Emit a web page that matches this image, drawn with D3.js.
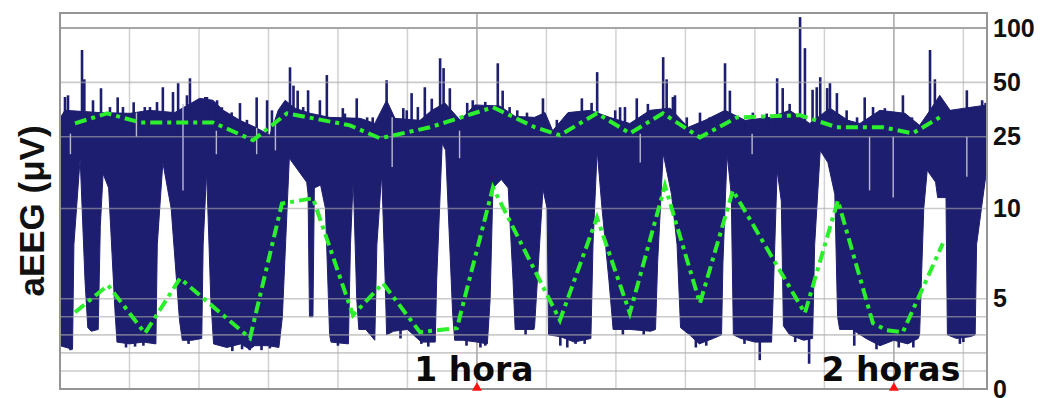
<!DOCTYPE html>
<html>
<head>
<meta charset="utf-8">
<script src="https://cdn.jsdelivr.net/npm/d3@7"></script>
<style>
  body { margin: 0; background: #fff; }
  svg { display: block; }
</style>
</head>
<body>
<div id="chart"></div>
<script>
// time in minutes, amplitude in microvolts (semi-log: linear 0-10, log 10-100)
var upperT = [0, 0.7, 5.8, 10.1, 12.9, 16.5, 20.1, 22.0, 23.5, 25.9, 28.1, 30.2, 31.4, 32.4, 33.8, 36.0, 38.8, 43.2, 45.3, 47.0, 48.2, 51.8, 53.5, 55.4, 57.6, 59.7, 63.3, 65.5, 68.3, 69.8, 70.9, 73.1, 76.3, 79.1, 82.0, 84.9, 87.8, 90.4, 92.8, 95.7, 98.6, 102.2, 105.0, 107.9, 110.8, 113.4, 115.1, 118.0, 121.6, 123.7, 125.2, 126.6, 128.1, 130.2, 133.4];
var upperV = [31.6, 35, 34, 33.7, 35, 34, 40.8, 39.8, 35, 30.8, 28.2, 25.5, 35, 39.8, 36, 33.7, 32, 31.6, 29.6, 39.8, 31.6, 30.8, 35, 38.4, 30.8, 37.5, 37, 32.4, 32, 34, 27, 34, 35, 32, 29.6, 35, 36, 28.2, 30.8, 35, 30.8, 32, 35, 29.6, 36, 30.8, 29.6, 35, 33.7, 28.9, 35, 42.4, 35, 36, 37.5];

var lowerT = [0, 1.8, 2.0, 2.9, 3.6, 4.0, 4.5, 5.5, 5.8, 6.2, 7.0, 7.9, 8.2, 10, 12, 13.8, 14.0, 14.8, 16, 17.2, 17.6, 19, 20.4, 20.6, 21.1, 21.7, 22.1, 24, 26, 27.3, 28, 30, 31.5, 32, 33.0, 35.5, 35.7, 35.9, 36.4, 36.6, 37.5, 38.2, 38.8, 39, 41.5, 41.8, 42.2, 42.7, 43, 44, 45.3, 45.6, 46.3, 46.8, 47.0, 48, 50, 52, 54, 54.2, 55.0, 55.5, 56.5, 56.8, 58, 60, 61.5, 61.9, 62.3, 63.5, 64.5, 65.2, 65.5, 66.5, 68.2, 68.3, 69.5, 70.1, 70.3, 72, 74, 76.4, 76.7, 77.3, 78.0, 79.0, 79.6, 82, 85, 85.7, 86.0, 86.8, 88.0, 88.8, 89.3, 90.6, 92, 94, 95.2, 95.4, 96.0, 96.6, 96.9, 98, 100, 102.4, 102.7, 103.2, 103.8, 104.1, 105, 107, 108.3, 108.6, 109.4, 110.5, 111.5, 111.9, 112.2, 114, 116, 118, 120, 122, 123.5, 123.7, 124.3, 124.8, 126.0, 126.3, 127.5, 127.7, 129, 131, 131.7, 131.9, 133.4];
var lowerV = [2.4, 2.2, 8, 19, 6, 3.4, 3.2, 3.3, 9, 15.6, 13, 4.4, 2.6, 2.5, 2.6, 2.5, 8, 18, 10, 3.8, 2.7, 2.7, 2.8, 8, 16, 5, 2.5, 2.3, 2.5, 2.2, 2.4, 2.4, 2.3, 4, 19, 14, 12, 4, 4, 13, 13.5, 10, 3, 2.6, 2.5, 8, 14.7, 5, 3.3, 3.3, 2.7, 8, 15.6, 6, 3, 3.2, 3.3, 2.6, 2.6, 6, 23, 21, 4.2, 2.7, 2.7, 2.6, 2.5, 5, 13, 14.5, 13, 6, 3.3, 3.3, 3.3, 3.5, 12.8, 10, 3, 2.9, 2.6, 2.8, 8, 21, 10, 6, 3.3, 3.3, 3.2, 3.3, 7, 20.2, 12, 8, 3.4, 3.0, 2.5, 2.8, 3, 7, 20, 12, 3, 2.8, 2.6, 2.6, 6, 16.3, 11, 3.5, 3.0, 2.7, 2.8, 8, 21, 18, 12, 4, 3.3, 3.3, 2.8, 2.4, 2.7, 2.5, 2.8, 3, 10, 16.3, 14, 11.5, 11.5, 3.0, 2.8, 2.9, 3, 8, 17];

// narrow peaks above the upper margin
var spikeT = [1.15, 3.17, 3.5, 5.9, 8.3, 10.6, 12.2, 14.8, 17.0, 18.7, 20.9, 23.3, 24.7, 25.9, 28.3, 29.8, 33.1, 33.6, 35.7, 37.4, 38.4, 40.7, 42.7, 47.0, 49.4, 50.6, 52.5, 54.7, 55.2, 56.1, 59.4, 61.2, 63.0, 63.7, 67.2, 69.5, 75.1, 77.3, 80.6, 83.0, 84.6, 86.8, 87.3, 88.5, 92.1, 95.7, 96.4, 99.7, 103.2, 105.0, 106.5, 107.2, 108.9, 109.4, 110.8, 111.8, 115.8, 118.7, 121.3, 125.2, 125.9, 130.5, 132.7,
  0.72, 4.75, 7.19, 9.06, 11.08, 12.95, 13.96, 16.26, 18.27, 21.15, 22.6, 26.9, 30.5, 34.2, 35.0, 41.0, 44.2, 45.0, 48.2, 49.9, 51.5, 53.5, 57.1, 58.6, 64.7, 65.8, 71.5, 73.7, 76.5, 79.9, 81.3, 88.2, 90.2, 93.5, 98.3, 101.7, 104.0, 108.3, 110.4, 113.2, 114.7, 117.0, 118.0, 119.9, 122.6, 128.1, 129.0, 131.3, 133.2];
var spikeV = [42.4, 75.6, 52, 46.4, 41.3, 38.8, 36.5, 47, 49.5, 52.7, 41.5, 36.4, 34.1, 38.4, 41.3, 39.8, 60.6, 48, 45.2, 39.8, 54.9, 36, 40.8, 51.4, 36, 43.6, 47, 68, 60, 46.4, 39.8, 39, 63.8, 45, 34, 40.8, 40.8, 57, 36.4, 40.8, 38, 69, 52, 42.4, 34, 63.8, 45, 34, 52.7, 38, 115, 77.4, 47, 53.4, 49.5, 43.6, 41.3, 36, 42.4, 75.6, 52, 45.2, 39.8,
  41.5, 39.8, 36.5, 36.5, 33.6, 36.5, 38.9, 44.2, 42.4, 41.5, 39.8, 31, 35, 45, 36.5, 33.6, 32, 32, 30, 35, 36.5, 40.6, 32, 38.5, 36.5, 35, 31, 33, 38.5, 35, 36.5, 41.5, 32, 32, 31, 33.6, 46.5, 45.5, 46.5, 35, 32, 36.5, 35, 34, 32, 35, 32, 36.5, 38.5];

// narrow drops below the lower margin
var dipT = [1.5, 9.5, 10.8, 12.0, 18.5, 24.8, 26.2, 27.3, 29.0, 30.2, 40.0, 49.0, 52.0, 53.0, 58.5, 60.5, 61.2, 67.0, 72.0, 73.0, 74.2, 75.5, 81.0, 84.0, 91.5, 93.0, 98.5, 100.7, 105.8, 107.8, 114.3, 115.0, 117.5, 120.7, 122.8, 129.5, 130.0];
var dipV = [2.15, 2.3, 2.35, 2.4, 2.5, 2.1, 2.2, 2.15, 2.15, 2.25, 2.4, 2.8, 2.5, 2.35, 2.4, 2.3, 2.4, 3.0, 2.4, 2.3, 2.5, 2.5, 3.0, 3.0, 2.3, 2.4, 2.5, 1.6, 2.6, 1.4, 2.4, 3.0, 2.2, 2.3, 2.3, 2.5, 2.6];

// pale dropout streaks inside the trace
var streakT = [1.5, 11.0, 17.7, 22.5, 28.3, 31.0, 47.8, 57.5, 83.5, 99.6, 116.5, 119.9, 130.5];
var streakTop = [26, 34, 38, 27, 28, 30, 32, 27, 26, 26, 25, 25, 25];
var streakBot = [20, 25, 12.6, 20, 20, 21, 17, 19, 18, 20, 12.6, 11.5, 15];

// trend lines (green, dash-dot)
var trendHighT = [2.16, 6.76, 11.51, 22.01, 27.77, 32.66, 41.73, 46.04, 53.24, 62.3, 68.35, 71.94, 77.27, 82.01, 86.76, 92.09, 97.41, 106.47, 111.8, 118.4, 122.7, 126.6];
var trendHighV = [29.65, 33.7, 30.0, 30.0, 23.9, 33.7, 28.9, 24.5, 28.2, 36.4, 28.2, 25.5, 33.7, 26.1, 33.7, 24.8, 32.0, 32.9, 28.2, 28.2, 26.1, 32.0];
var trendLowT = [2.16, 6.91, 12.23, 17.27, 27.34, 31.94, 36.4, 42.16, 46.47, 51.8, 57.12, 62.3, 71.94, 77.27, 82.0, 87.05, 92.09, 96.83, 107.19, 111.94, 116.98, 118.99, 121.29, 127.05];
var trendLowV = [4.25, 5.75, 3.09, 6.13, 2.82, 10.66, 11.4, 4.09, 5.86, 3.15, 3.37, 13.08, 3.81, 9.5, 4.2, 13.4, 4.75, 12.6, 4.2, 11.08, 3.65, 3.26, 3.15, 8.07];

var yTicks = [0, 5, 10, 25, 50, 100];
var yGrid = [1, 2, 3, 4, 5, 10, 25, 50];
var xGrid = [10, 20, 30, 40, 50, 70, 80, 90, 100, 110, 130];
var hourT = [60, 120];
var hourLabels = ["1 hora", "2 horas"];

var W = 1044, H = 398;
var plot = {left: 60, right: 987, top: 13, bottom: 389};
var tMax = 133.4, vMax = 121.2;

function semilog(v) { return v <= 10 ? v / 10 : 1 + Math.log10(v / 10); }

var x = d3.scaleLinear().domain([0, tMax]).range([plot.left, plot.right]);
var yLin = d3.scaleLinear().domain([0, semilog(vMax)]).range([plot.bottom, plot.top]);
function y(v) { return yLin(semilog(v)); }

var svg = d3.select("#chart")
  .append("svg")
  .attr("width", W)
  .attr("height", H);

svg.append("rect").attr("width", W).attr("height", H).attr("fill", "#fff");

// vertical grid (under the trace)
svg.append("g")
  .selectAll("line")
  .data(xGrid)
  .enter().append("line")
  .attr("x1", function(d) { return x(d); })
  .attr("x2", function(d) { return x(d); })
  .attr("y1", y(100))
  .attr("y2", plot.bottom)
  .attr("stroke", "#d2d2d2")
  .attr("stroke-width", 1.5);

svg.append("g")
  .selectAll("line")
  .data(hourT)
  .enter().append("line")
  .attr("x1", function(d) { return x(d); })
  .attr("x2", function(d) { return x(d); })
  .attr("y1", plot.top)
  .attr("y2", plot.bottom)
  .attr("stroke", "#b4b4b4")
  .attr("stroke-width", 1.8);

// aEEG band: upper margin left to right, lower margin back
var navy = "#1e1e70";
var band = upperT.map(function(t, i) { return [t, upperV[i]]; })
  .concat(lowerT.map(function(t, i) { return [t, lowerV[i]]; }).reverse());

var line = d3.line()
  .x(function(d) { return x(d[0]); })
  .y(function(d) { return y(d[1]); });

svg.append("path")
  .attr("d", line(band) + "Z")
  .attr("fill", navy)
  .attr("stroke", navy)
  .attr("stroke-width", 1);

svg.append("g")
  .selectAll("rect")
  .data(spikeT)
  .enter().append("rect")
  .attr("x", function(d) { return x(d) - 1.3; })
  .attr("width", 2.6)
  .attr("y", function(d, i) { return y(spikeV[i]); })
  .attr("height", function(d, i) { return y(26) - y(spikeV[i]); })
  .attr("fill", navy);

svg.append("g")
  .selectAll("rect")
  .data(dipT)
  .enter().append("rect")
  .attr("x", function(d) { return x(d) - 1.3; })
  .attr("width", 2.6)
  .attr("y", y(3.3))
  .attr("height", function(d, i) { return y(dipV[i]) - y(3.3); })
  .attr("fill", navy);

svg.append("g")
  .selectAll("line")
  .data(streakT)
  .enter().append("line")
  .attr("x1", function(d) { return x(d); })
  .attr("x2", function(d) { return x(d); })
  .attr("y1", function(d, i) { return y(streakTop[i]); })
  .attr("y2", function(d, i) { return y(streakBot[i]); })
  .attr("stroke", "#b8b8d4")
  .attr("stroke-width", 1.4);

// horizontal grid drawn over the trace, semi transparent
svg.append("g")
  .selectAll("line")
  .data(yGrid)
  .enter().append("line")
  .attr("x1", plot.left)
  .attr("x2", plot.right)
  .attr("y1", function(d) { return y(d); })
  .attr("y2", function(d) { return y(d); })
  .attr("stroke", "#a8a8a8")
  .attr("stroke-opacity", 0.6)
  .attr("stroke-width", 1.6);

svg.append("line")
  .attr("x1", plot.left).attr("x2", plot.right)
  .attr("y1", y(100)).attr("y2", y(100))
  .attr("stroke", "#a6a6a6")
  .attr("stroke-width", 2);

// frame
svg.append("rect")
  .attr("x", plot.left)
  .attr("y", plot.top)
  .attr("width", plot.right - plot.left)
  .attr("height", plot.bottom - plot.top)
  .attr("fill", "none")
  .attr("stroke", "#959595")
  .attr("stroke-width", 2);

// trend lines
var green = "#2cf02c";
function trend(ts, vs) {
  svg.append("path")
    .attr("d", line(ts.map(function(t, i) { return [t, vs[i]]; })))
    .attr("fill", "none")
    .attr("stroke", green)
    .attr("stroke-width", 4)
    .attr("stroke-dasharray", "12,5,4,5");
}
trend(trendHighT, trendHighV);
trend(trendLowT, trendLowV);

// right axis
var yAxis = d3.axisRight(yLin)
  .tickValues(yTicks.map(semilog))
  .tickFormat(function(d, i) { return yTicks[i]; })
  .tickSize(0)
  .tickPadding(6);

var gy = svg.append("g")
  .attr("transform", "translate(" + plot.right + ",0)")
  .call(yAxis);
gy.select(".domain").remove();
gy.selectAll("text")
  .attr("fill", "#111")
  .style("font-family", "'Liberation Sans', Arial, sans-serif")
  .style("font-weight", "bold")
  .style("font-size", "25px");

// y label
svg.append("text")
  .attr("transform", "translate(44,211) rotate(-90)")
  .attr("text-anchor", "middle")
  .style("font-family", "'Liberation Sans', Arial, sans-serif")
  .style("font-weight", "bold")
  .style("font-size", "35px")
  .attr("fill", "#111")
  .text("aEEG (\u03bcV)");

// hour marks
svg.append("g")
  .selectAll("text")
  .data(hourT)
  .enter().append("text")
  .attr("x", function(d) { return x(d) - 3; })
  .attr("y", 381)
  .attr("text-anchor", "middle")
  .style("font-family", "'DejaVu Sans', sans-serif")
  .style("font-weight", "bold")
  .style("font-size", "33px")
  .attr("fill", "#0a0a0a")
  .text(function(d, i) { return hourLabels[i]; });

svg.append("g")
  .selectAll("path")
  .data(hourT)
  .enter().append("path")
  .attr("d", d3.symbol(d3.symbolTriangle).size(42))
  .attr("transform", function(d) { return "translate(" + x(d) + "," + (plot.bottom - 1) + ")"; })
  .attr("fill", "#ff1010");
</script>
</body>
</html>
